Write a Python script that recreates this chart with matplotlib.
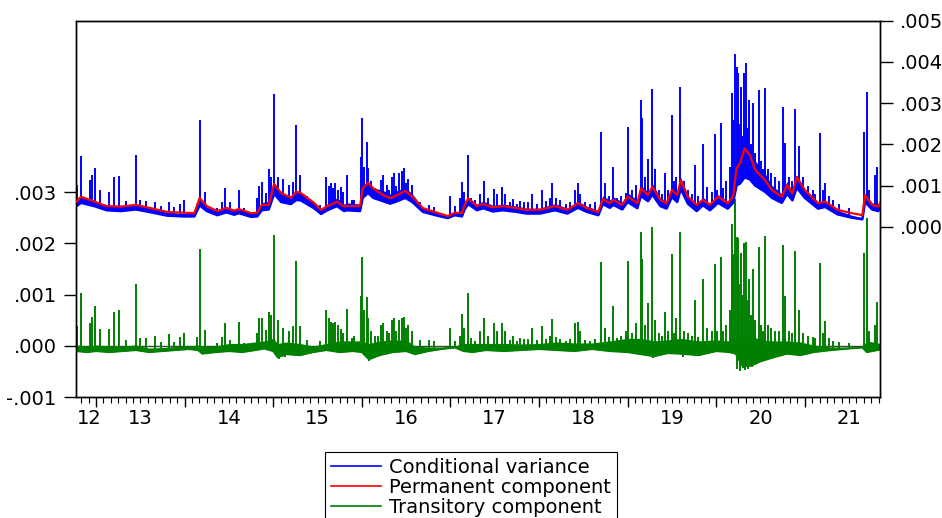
import numpy as np
import matplotlib.pyplot as plt
import matplotlib.transforms as mtransforms
from matplotlib.lines import Line2D
from matplotlib.ticker import FuncFormatter, FixedLocator

plt.rcParams['font.family'] = ['DejaVu Sans']
plt.rcParams['font.size'] = 14

# values in units of 1e-3, time in fractional years
perm_t = [2012.78, 2012.83, 2012.98, 2013.12, 2013.28, 2013.45, 2013.62, 2013.80, 2013.99, 2014.11,
          2014.17, 2014.25, 2014.37, 2014.47, 2014.56, 2014.61, 2014.75, 2014.82, 2014.87, 2014.95,
          2015.01, 2015.09, 2015.20, 2015.26, 2015.31, 2015.46, 2015.54, 2015.61, 2015.72, 2015.80,
          2015.83, 2015.98, 2016.01, 2016.07, 2016.13, 2016.24, 2016.32, 2016.40, 2016.49, 2016.57,
          2016.69, 2016.85, 2016.97, 2017.05, 2017.13, 2017.16, 2017.20, 2017.30, 2017.37, 2017.48,
          2017.59, 2017.75, 2017.86, 2018.01, 2018.18, 2018.32, 2018.44, 2018.54, 2018.67, 2018.72,
          2018.80, 2018.84, 2018.94, 2019.00, 2019.11, 2019.15, 2019.23, 2019.28, 2019.37, 2019.44,
          2019.50, 2019.56, 2019.60, 2019.68, 2019.78, 2019.85, 2019.93, 2020.02, 2020.13, 2020.19,
          2020.23, 2020.27, 2020.32, 2020.38, 2020.44, 2020.55, 2020.63, 2020.74, 2020.80, 2020.86,
          2020.91, 2021.00, 2021.15, 2021.23, 2021.37, 2021.53, 2021.65, 2021.68, 2021.76, 2021.83,
          2021.85]
permanent = [0.61, 0.73, 0.61, 0.50, 0.49, 0.53, 0.45, 0.36, 0.34, 0.33,
             0.70, 0.50, 0.38, 0.46, 0.39, 0.43, 0.33, 0.34, 0.53, 0.53,
             1.04, 0.82, 0.70, 0.85, 0.82, 0.58, 0.41, 0.50, 0.61, 0.49,
             0.50, 0.50, 0.93, 1.07, 0.93, 0.77, 0.69, 0.77, 0.87, 0.73,
             0.45, 0.34, 0.26, 0.34, 0.33, 0.53, 0.69, 0.50, 0.55, 0.47,
             0.50, 0.45, 0.41, 0.41, 0.50, 0.41, 0.57, 0.45, 0.36, 0.67,
             0.57, 0.65, 0.53, 0.73, 0.57, 0.93, 0.77, 0.97, 0.65, 0.57,
             0.89, 0.77, 1.13, 0.73, 0.53, 0.65, 0.53, 0.73, 0.57, 0.73,
             1.42, 1.54, 1.90, 1.74, 1.38, 1.13, 0.89, 0.73, 1.01, 0.81,
             1.21, 0.89, 0.57, 0.61, 0.41, 0.33, 0.28, 0.77, 0.53, 0.49,
             0.58]
# lower edge and upper edge of the dense daily band of the conditional variance
cv_base = [0.50, 0.58, 0.50, 0.40, 0.38, 0.42, 0.35, 0.27, 0.25, 0.25,
           0.52, 0.38, 0.28, 0.35, 0.29, 0.33, 0.24, 0.25, 0.40, 0.42,
           0.80, 0.60, 0.55, 0.65, 0.64, 0.45, 0.31, 0.40, 0.50, 0.38,
           0.40, 0.38, 0.70, 0.82, 0.70, 0.62, 0.56, 0.62, 0.70, 0.60,
           0.36, 0.27, 0.21, 0.28, 0.25, 0.42, 0.55, 0.40, 0.45, 0.37,
           0.40, 0.36, 0.32, 0.32, 0.40, 0.32, 0.46, 0.36, 0.28, 0.55,
           0.46, 0.53, 0.42, 0.60, 0.45, 0.75, 0.62, 0.78, 0.50, 0.44,
           0.72, 0.60, 0.92, 0.56, 0.38, 0.52, 0.40, 0.58, 0.44, 0.58,
           1.00, 1.05, 1.20, 1.15, 1.00, 0.85, 0.70, 0.58, 0.80, 0.64,
           0.95, 0.70, 0.44, 0.48, 0.30, 0.22, 0.18, 0.60, 0.42, 0.38,
           0.46]
cv_top = [0.62, 0.72, 0.64, 0.52, 0.50, 0.55, 0.45, 0.35, 0.32, 0.33,
          0.66, 0.48, 0.38, 0.46, 0.40, 0.45, 0.34, 0.36, 0.58, 0.62,
          1.05, 0.82, 0.75, 0.85, 0.82, 0.58, 0.40, 0.55, 0.70, 0.55,
          0.58, 0.55, 0.95, 1.10, 0.95, 0.88, 0.80, 0.88, 0.95, 0.80,
          0.45, 0.33, 0.26, 0.36, 0.32, 0.58, 0.72, 0.55, 0.62, 0.52,
          0.55, 0.50, 0.45, 0.45, 0.56, 0.45, 0.62, 0.50, 0.40, 0.75,
          0.65, 0.72, 0.60, 0.82, 0.65, 1.00, 0.85, 1.05, 0.70, 0.62,
          0.95, 0.82, 1.20, 0.75, 0.55, 0.72, 0.56, 0.78, 0.62, 0.78,
          1.80, 1.90, 2.10, 1.90, 1.60, 1.30, 1.00, 0.80, 1.10, 0.85,
          1.25, 0.92, 0.60, 0.62, 0.40, 0.28, 0.22, 0.80, 0.58, 0.55,
          0.62]

tc_t = [2012.78, 2012.9, 2013.0, 2013.15, 2013.3, 2013.45, 2013.6, 2013.75, 2013.9, 2014.05,
        2014.15, 2014.2, 2014.35, 2014.5, 2014.65, 2014.8, 2014.9, 2015.0, 2015.05, 2015.15,
        2015.3, 2015.45, 2015.6, 2015.75, 2015.9, 2016.0, 2016.08, 2016.2, 2016.35, 2016.5,
        2016.6, 2016.75, 2016.9, 2017.05, 2017.15, 2017.25, 2017.4, 2017.6, 2017.8, 2018.0,
        2018.2, 2018.4, 2018.6, 2018.8, 2019.0, 2019.15, 2019.3, 2019.45, 2019.6, 2019.8,
        2020.0, 2020.15, 2020.22, 2020.3, 2020.4, 2020.5, 2020.65, 2020.8, 2020.95, 2021.1,
        2021.3, 2021.5, 2021.65, 2021.7, 2021.85]
tc_base = [-0.10, -0.12, -0.10, -0.12, -0.10, -0.08, -0.12, -0.10, -0.08, -0.06,
           -0.08, -0.15, -0.12, -0.10, -0.12, -0.08, -0.05, -0.10, -0.22, -0.16,
           -0.18, -0.12, -0.08, -0.12, -0.10, -0.12, -0.26, -0.18, -0.12, -0.10,
           -0.16, -0.10, -0.06, -0.03, -0.10, -0.12, -0.08, -0.10, -0.08, -0.06,
           -0.08, -0.10, -0.06, -0.10, -0.12, -0.16, -0.20, -0.14, -0.15, -0.18,
           -0.10, -0.12, -0.15, -0.40, -0.38, -0.30, -0.22, -0.15, -0.18, -0.12,
           -0.08, -0.05, -0.03, -0.12, -0.07]
tc_top = [0.02, 0.00, 0.02, 0.00, 0.00, 0.02, -0.04, -0.03, -0.01, 0.00,
          0.02, 0.00, 0.00, 0.05, 0.05, 0.08, 0.10, 0.15, 0.05, 0.08,
          0.05, 0.00, 0.05, 0.10, 0.10, 0.10, 0.05, 0.10, 0.12, 0.12,
          0.00, -0.02, -0.02, 0.00, 0.05, 0.05, 0.05, 0.05, 0.04, 0.05,
          0.08, 0.06, 0.06, 0.10, 0.15, 0.15, 0.10, 0.12, 0.15, 0.10,
          0.12, 0.10, 0.15, 0.20, 0.20, 0.12, 0.10, 0.10, 0.08, 0.02,
          -0.02, -0.02, 0.00, 0.10, 0.05]

dip_t = [2015.06, 2015.13, 2016.08, 2016.11, 2019.29, 2019.62, 2020.24, 2020.27,
         2020.30, 2020.33, 2020.36, 2020.40, 2020.43, 2020.47, 2020.52]
dip_tc = [-0.26, -0.22, -0.30, -0.24, -0.24, -0.22, -0.45, -0.48,
          -0.42, -0.47, -0.45, -0.40, -0.36, -0.33, -0.30]

spike_t = [2012.79, 2012.83, 2012.93, 2012.96, 2012.99,
           2013.05, 2013.15, 2013.20, 2013.26, 2013.34, 2013.45, 2013.50, 2013.56, 2013.67, 2013.73, 2013.82, 2013.88, 2013.95, 2013.99,
           2014.14, 2014.17, 2014.23, 2014.37, 2014.42, 2014.46, 2014.51, 2014.61, 2014.67, 2014.82, 2014.84, 2014.87, 2014.92, 2014.95, 2014.98,
           2015.01, 2015.05, 2015.11, 2015.18, 2015.22, 2015.26, 2015.30, 2015.38, 2015.53, 2015.60, 2015.63, 2015.65, 2015.67, 2015.70, 2015.73, 2015.76, 2015.79, 2015.83, 2015.89, 2015.91, 2015.99,
           2016.00, 2016.02, 2016.06, 2016.07, 2016.10, 2016.15, 2016.18, 2016.22, 2016.24, 2016.28, 2016.31, 2016.34, 2016.36, 2016.39, 2016.42, 2016.45, 2016.48, 2016.50, 2016.52, 2016.57, 2016.66, 2016.76, 2016.81,
           2017.00, 2017.05, 2017.11, 2017.13, 2017.15, 2017.20, 2017.23, 2017.28, 2017.33, 2017.38, 2017.42, 2017.49, 2017.53, 2017.58, 2017.62, 2017.67, 2017.71, 2017.75, 2017.79, 2017.83, 2017.88, 2017.92, 2017.98,
           2018.03, 2018.08, 2018.12, 2018.15, 2018.19, 2018.24, 2018.30, 2018.35, 2018.41, 2018.44, 2018.46, 2018.52, 2018.58, 2018.63, 2018.70, 2018.74, 2018.79, 2018.84, 2018.88, 2018.92, 2018.98,
           2019.01, 2019.05, 2019.10, 2019.15, 2019.16, 2019.20, 2019.23, 2019.27, 2019.31, 2019.36, 2019.39, 2019.42, 2019.46, 2019.50, 2019.52, 2019.55, 2019.59, 2019.64, 2019.68, 2019.73, 2019.76, 2019.80, 2019.85, 2019.90, 2019.95, 2019.99,
           2020.01, 2020.05, 2020.08, 2020.11, 2020.16, 2020.18, 2020.19, 2020.21, 2020.23, 2020.25, 2020.26, 2020.28, 2020.29, 2020.31, 2020.34, 2020.35, 2020.37, 2020.39, 2020.42, 2020.44, 2020.48, 2020.51, 2020.53, 2020.55, 2020.58, 2020.62, 2020.66, 2020.71, 2020.75, 2020.78, 2020.82, 2020.86, 2020.89, 2020.94, 2020.98,
           2021.04, 2021.09, 2021.12, 2021.17, 2021.20, 2021.23, 2021.27, 2021.32, 2021.39, 2021.50, 2021.67, 2021.70, 2021.73, 2021.79, 2021.82]
spike_cv = [1.01, 1.72, 1.13, 1.25, 1.43,
            0.89, 0.85, 1.20, 1.23, 0.62, 1.74, 0.65, 0.62, 0.61, 0.50, 0.61, 0.48, 0.55, 0.65,
            0.55, 2.59, 0.85, 0.45, 0.60, 0.93, 0.60, 0.89, 0.45, 0.70, 0.99, 1.09, 0.81, 1.39, 1.20,
            3.22, 1.21, 1.17, 1.01, 1.09, 2.47, 1.25, 0.75, 0.52, 1.20, 1.00, 1.05, 0.95, 1.07, 0.90, 0.97, 0.85, 1.25, 0.65, 0.65, 1.70,
            2.63, 1.46, 2.06, 1.42, 1.10, 0.93, 0.85, 1.13, 1.25, 1.01, 0.90, 1.21, 1.31, 1.00, 1.30, 1.36, 1.42, 1.05, 1.15, 1.01, 0.60, 0.53, 0.49,
            0.75, 0.50, 0.70, 1.08, 0.85, 1.74, 0.70, 0.65, 0.80, 1.11, 0.70, 0.91, 0.80, 0.96, 0.80, 0.60, 0.68, 0.55, 0.62, 0.60, 0.60, 0.79, 0.55,
            0.89, 0.62, 0.70, 1.05, 0.70, 0.65, 0.55, 0.60, 0.89, 1.07, 0.80, 0.60, 0.55, 0.60, 2.31, 1.05, 0.75, 1.46, 0.70, 0.75, 0.81,
            2.41, 0.90, 1.01, 3.08, 2.63, 1.20, 1.64, 3.34, 1.39, 0.90, 0.80, 1.31, 0.90, 2.71, 1.10, 1.20, 3.38, 1.10, 0.90, 0.80, 1.49, 0.75, 2.01, 0.97, 0.85, 2.24,
            0.90, 2.51, 0.95, 1.10, 1.46, 3.25, 2.60, 4.19, 3.88, 3.74, 2.50, 3.38, 2.20, 3.72, 3.97, 2.40, 3.08, 2.00, 3.00, 1.80, 3.32, 1.60, 1.40, 3.37, 1.40, 1.30, 1.20, 1.10, 2.91, 2.04, 1.20, 1.10, 2.86, 1.96, 1.20,
            1.00, 0.90, 0.80, 2.27, 0.90, 1.07, 0.75, 0.65, 0.55, 0.45, 2.31, 3.28, 0.90, 1.25, 1.46]
spike_tc = [0.38, 1.03, 0.45, 0.57, 0.77,
            0.33, 0.34, 0.67, 0.70, 0.12, 1.21, 0.15, 0.15, 0.19, 0.08, 0.23, 0.08, 0.18, 0.25,
            0.18, 1.90, 0.31, 0.06, 0.18, 0.45, 0.12, 0.47, 0.06, 0.25, 0.54, 0.54, 0.31, 0.67, 0.60,
            2.16, 0.50, 0.36, 0.30, 0.38, 1.66, 0.38, 0.12, 0.10, 0.70, 0.55, 0.47, 0.45, 0.47, 0.40, 0.34, 0.25, 0.72, 0.15, 0.20, 0.97,
            1.74, 0.70, 0.96, 0.55, 0.30, 0.20, 0.20, 0.41, 0.45, 0.30, 0.25, 0.51, 0.55, 0.30, 0.50, 0.54, 0.57, 0.35, 0.40, 0.30, 0.12, 0.12, 0.10,
            0.36, 0.10, 0.20, 0.62, 0.35, 1.04, 0.15, 0.10, 0.30, 0.54, 0.20, 0.45, 0.30, 0.44, 0.30, 0.12, 0.20, 0.10, 0.15, 0.14, 0.14, 0.36, 0.12,
            0.38, 0.14, 0.20, 0.52, 0.18, 0.14, 0.10, 0.14, 0.45, 0.47, 0.30, 0.12, 0.10, 0.14, 1.64, 0.35, 0.18, 0.78, 0.15, 0.20, 0.30,
            1.66, 0.25, 0.44, 2.23, 1.69, 0.40, 0.83, 2.31, 0.51, 0.25, 0.20, 0.67, 0.30, 1.79, 0.25, 0.55, 2.23, 0.30, 0.25, 0.20, 0.90, 0.18, 1.31, 0.35, 0.30, 1.60,
            0.30, 1.74, 0.30, 0.40, 0.70, 2.38, 1.80, 2.86, 2.13, 2.10, 1.20, 1.81, 1.00, 2.00, 2.03, 0.90, 1.30, 0.60, 1.50, 0.50, 1.92, 0.40, 0.30, 2.14, 0.40, 0.35, 0.30, 0.30, 1.96, 0.97, 0.30, 0.25, 1.86, 0.70, 0.25,
            0.20, 0.18, 0.15, 1.61, 0.25, 0.49, 0.15, 0.10, 0.08, 0.05, 1.81, 2.49, 0.30, 0.40, 0.86]

year_labels = ['12', '13', '14', '15', '16', '17', '18', '19', '20', '21']
year_label_pos = [2012.92, 2013.5, 2014.5, 2015.5, 2016.5, 2017.5, 2018.5, 2019.5, 2020.5, 2021.5]
legend_labels = ['Conditional variance', 'Permanent component', 'Transitory component']

BLUE, RED, GREEN = '#0000ff', '#ff0000', '#008000'
S = 1e-3

perm_t = np.array(perm_t)
tc_t = np.array(tc_t)
spike_t = np.array(spike_t)
dip_t = np.array(dip_t)
permanent = np.array(permanent) * S
cv_base = np.array(cv_base) * S
cv_top = np.array(cv_top) * S
tc_base = np.array(tc_base) * S
tc_top = np.array(tc_top) * S
spike_cv = np.array(spike_cv) * S
spike_tc = np.array(spike_tc) * S
dip_tc = np.array(dip_tc) * S

fig = plt.figure(figsize=(9.42, 5.18), dpi=100)
ax = fig.add_axes([76 / 942, 1 - 397.3 / 518, (880 - 76) / 942, (397.3 - 20.7) / 518])
ax2 = ax.twinx()

# transitory component on the left scale
ax.axhline(0, color='#404040', lw=1.0, zorder=1)
ax.fill_between(tc_t, tc_base, tc_top, color=GREEN, lw=0, zorder=2)
ax.plot(tc_t, tc_base, color=GREEN, lw=1.4, zorder=2)
ax.vlines(spike_t, np.interp(spike_t, tc_t, tc_base), spike_tc, color=GREEN, lw=1.4, zorder=2)
ax.vlines(dip_t, np.interp(dip_t, tc_t, tc_base), dip_tc, color=GREEN, lw=1.4, zorder=2)

# conditional variance and permanent component on the right scale
ax2.fill_between(perm_t, cv_base, cv_top, color=BLUE, lw=0, zorder=2)
ax2.plot(perm_t, cv_base, color=BLUE, lw=1.8, zorder=2)
ax2.vlines(spike_t, np.interp(spike_t, perm_t, cv_base), spike_cv, color=BLUE, lw=1.4, zorder=2)
ax2.plot(perm_t, permanent, color=RED, lw=1.6, zorder=3)

ax.set_xlim(2012.774, 2021.849)
ax.set_ylim(-0.001, 0.00634)
ax2.set_ylim(-0.00414, 0.005)

fmt = FuncFormatter(lambda v, p: ('%.3f' % v).replace('0.', '.', 1))
ax.set_yticks([-0.001, 0, 0.001, 0.002, 0.003])
ax2.set_yticks([0, 0.001, 0.002, 0.003, 0.004, 0.005])
ax.yaxis.set_major_formatter(fmt)
ax2.yaxis.set_major_formatter(fmt)
ax.tick_params(axis='y', direction='out', length=9, width=1, pad=5, labelsize=14)
ax2.tick_params(axis='y', direction='out', length=9, width=1, pad=5, labelsize=14)

ax.set_xticks(range(2013, 2022))
ax.set_xticklabels([])
months = [y + m / 12 for y in range(2012, 2022) for m in range(12)]
months = [m for m in months if 2012.774 <= m <= 2021.849]
ax.xaxis.set_minor_locator(FixedLocator(months))
ax.tick_params(axis='x', which='major', direction='out', length=7, width=1)
ax.tick_params(axis='x', which='minor', direction='out', length=4, width=0.8)

trans = mtransforms.blended_transform_factory(ax.transData, ax.transAxes)
for pos, lab in zip(year_label_pos, year_labels):
    ax.text(pos, -0.056, lab, transform=trans, ha='center', va='center', fontsize=14)

for a in (ax, ax2):
    for sp in a.spines.values():
        sp.set_linewidth(1.0)
        sp.set_color('black')

handles = [Line2D([], [], color=c, lw=1.2) for c in (BLUE, RED, GREEN)]
leg = fig.legend(handles, legend_labels, loc='upper left',
                 bbox_to_anchor=(325 / 942, 1 - 452 / 518), frameon=True, fancybox=False,
                 edgecolor='black', framealpha=1, borderpad=0.3, handlelength=2.6,
                 handletextpad=0.4, labelspacing=0.06, borderaxespad=0, fontsize=14)
leg.get_frame().set_linewidth(0.8)

fig.savefig('out.png', dpi=100)
